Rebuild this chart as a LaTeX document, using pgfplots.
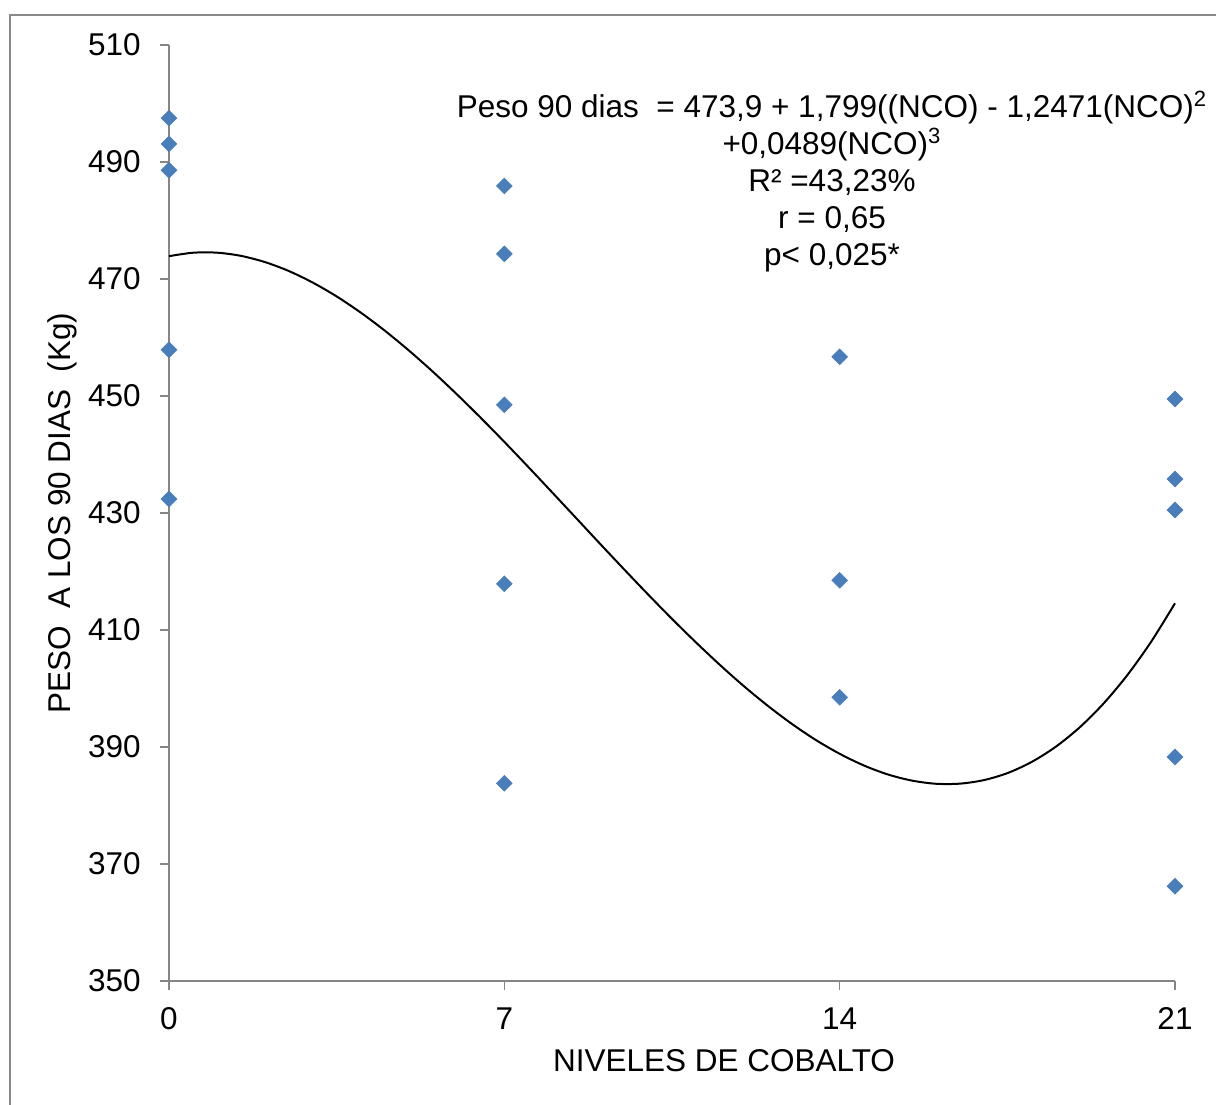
\documentclass[border=0pt]{standalone}
\usepackage{fontspec}
\setmainfont{Liberation Sans}
\usepackage{pgfplots}
\pgfplotsset{compat=1.18}
\definecolor{markblue}{HTML}{4A7EBB}
\definecolor{axgray}{HTML}{868686}
\definecolor{framegray}{HTML}{898989}
\newcommand{\fs}{\fontsize{15.75}{18.5}\selectfont}
\begin{document}
\begin{tikzpicture}[x=1pt,y=1pt]
\useasboundingbox (0,0) rectangle (608,552);
\draw[framegray, line width=0.75pt] (5,-20) -- (5,544.5) -- (630,544.5);
\begin{axis}[
  at={(84.5pt,61.5pt)}, anchor=south west,
  scale only axis, width=503pt, height=468pt,
  xmin=0, xmax=21, ymin=350, ymax=510,
  axis x line=bottom, axis y line=left,
  axis line style={-, draw=axgray, line width=0.75pt},
  xtick={0,7,14,21}, ytick={350,370,...,510},
  tick align=outside, major tick length=4.5pt,
  tick style={draw=axgray, line width=0.75pt},
  /pgf/number format/assume math mode=true,
  every tick label/.append style={font=\fs, text=black},
  xticklabel style={anchor=north, inner sep=0pt, yshift=-8.5pt},
  yticklabel style={anchor=east, inner sep=0pt, xshift=-9.5pt},
  xlabel={NIVELES DE COBALTO},
  xlabel style={at={(axis description cs:0.5517,-0.0855)}, anchor=center, font=\fs, inner sep=0pt},
  ylabel={PESO\ \ A LOS 90 DIAS\ \ (Kg)},
  ylabel style={at={(axis description cs:-0.1064,0.5)}, anchor=center, font=\fs, inner sep=0pt},
  clip=false,
]
\addplot[black, line width=1pt, smooth, no markers] coordinates {
(0,473.90)(0.5,474.49)(1,474.50)(1.5,473.96)(2,472.90)(2.5,471.37)(3,469.39)(3.5,467.02)
(4,464.27)(4.5,461.20)(5,457.83)(5.5,454.21)(6,450.36)(6.5,446.33)
(7,442.16)(7.5,437.87)(8,433.51)(8.5,429.12)(9,424.72)(9.5,420.37)(10,416.08)(10.5,411.90)
(11,407.88)(11.5,404.03)(12,400.40)(12.5,397.04)(13,393.96)(13.5,391.21)
(14,388.84)(14.5,386.86)(15,385.32)(15.5,384.27)(16,383.72)(16.5,383.73)(17,384.32)(17.5,385.53)
(18,387.41)(18.5,389.98)(19,393.28)(19.5,397.36)(20,402.24)(20.5,407.97)(21,414.57)
};
\addplot[only marks, mark=square*, mark size=2.75pt, mark options={rotate=45, fill=markblue, draw=markblue}] coordinates {
(0,497.5)(0,493.1)(0,488.6)(0,457.9)(0,432.4)
(7,485.9)(7,474.3)(7,448.5)(7,417.9)(7,383.8)
(14,456.7)(14,418.5)(14,398.5)
(21,449.5)(21,435.8)(21,430.5)(21,388.3)(21,366.2)
};
\end{axis}
\node[anchor=north, align=center, font=\fs, inner sep=0pt] at (416,506.5) {Peso 90 dias\ \ = 473,9 + 1,799((NCO) - 1,2471(NCO)\textsuperscript{2}\\+0,0489(NCO)\textsuperscript{3}\\R² =43,23\%\\r = 0,65\\p< 0,025*};
\end{tikzpicture}
\end{document}
